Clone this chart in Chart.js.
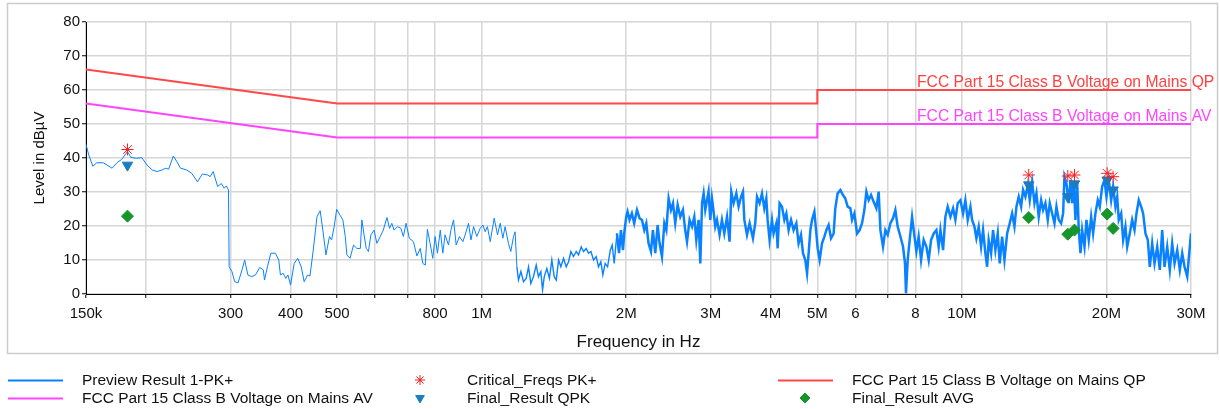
<!DOCTYPE html>
<html>
<head>
<meta charset="utf-8">
<script src="https://cdn.jsdelivr.net/npm/chart.js@4"></script>
<style>
body { margin: 0; background: #fff; }
</style>
</head>
<body>
<canvas id="myChart" width="1220" height="409"></canvas>
<script>
// frequencies in kHz, levels in dBuV
var traceFreq = [150,152,155,158,163,170,174,178,183,186,191,196,201,206,211,216,220,223,228,232,236,243,249,256,262,269,272,276,282,287,291,294,297,298,302,306,311,317,321,326,332,338,345,351,353,358,364,372,378,381,386,391,395,400,407,414,421,427,434,439,446,454,461,467,474,482,487,493,499,507,514,520,524,532,541,550,559,563,569,575,581,588,597,605,615,624,635,643,650,657,668,679,687,696,707,721,733,745,754,763,771,781,791,800,809,820,830,839,853,863,874,885,899,914,924,939,950,962,977,993,1006,1017,1028,1042,1062,1079,1093,1107,1119,1137,1150,1165,1174,1184,1193,1207,1222,
  1238,1252,1266,1282,1299,1313,1328,1339,1350,1367,1384,1400,1416,1430,1446,1462,1481,1500,1517,1534,1553,1574,1591,1612,1630,1651,1669,1689,1710,1732,1751,1771,1788,1808,1829,1853,1870,1888,1913,1932,1950,1969,1981,2000,2013,2032,2055,2078,2106,2132,2157,2181,2202,2226,2252,2273,2299,2325,2347,2374,2401,2424,2451,2479,2503,2530,2559,2592,2625,2654,2677,2710,2742,2772,2799,2830,2853,2877,2899,2922,2946,2968,2993,3017,3041,3065,3091,3129,3165,3201,3243,3283,3310,3347,3391,3428,3468,3501,3524,3569,3614,
  3672,3713,3745,3791,3835,3878,3915,3940,3977,4023,4054,4108,4134,4173,4221,4269,4310,4357,4408,4463,4521,4571,4624,4668,4720,4760,4796,4836,4875,4930,4977,5008,5056,5114,5172,5221,5278,5340,5407,5450,5512,5585,5655,5718,5783,5859,5906,5972,6050,6125,6196,6265,6326,6396,6470,6551,6637,6710,6766,6852,6928,7007,7099,7189,7269,7351,7447,7542,7613,7649,7712,7786,7876,7937,8040,8128,8223,8326,8436,8529,8627,8736,8850,8947,9023,9137,9239,9343,9466,9586,9693,9802,9931,10057,10169,10284,10418,
  10502,10621,10722,10840,10965,11069,11193,11287,11373,11504,11613,11743,11876,11990,12128,12265,12424,12579,12724,12867,12990,13133,13285,13411,13560,13715,13846,14005,14163,14298,14455,14623,14761,14926,15096,15240,15415,15589,15738,15911,16095,16248,16355,16511,16693,16833,16967,17099,17236,17382,17514,17661,17801,18002,18174,18374,18587,18763,18972,19187,19370,19593,19814,20004,20224,20458,20652,20882,21058,21218,21463,21667,21908,22093,22368,22626,22881,23100,23354,23624,23848,24114,24389,24621,24905,25186,25513,25831,26129,26424,26767,27100,27412,27722,28082,28432,28760,29084,29462,29747,30000];
var traceLevel = [44.0,40.9,37.6,38.6,38.6,37.0,38.6,39.6,41.9,40.2,39.9,40.1,37.9,36.5,36.0,36.5,37.0,36.7,40.6,38.9,37.0,36.5,35.5,33.0,35.3,35.0,34.5,36.0,31.6,32.5,31.1,31.8,30.6,8.0,6.6,3.6,3.3,7.1,10.0,5.6,5.1,5.6,7.8,7.1,4.1,8.0,12.0,12.0,10.0,5.6,6.1,4.6,5.6,2.6,9.0,10.5,8.0,3.6,5.6,5.3,12.9,22.7,24.5,18.8,11.5,16.9,15.9,19.8,24.9,23.2,21.8,16.9,11.5,10.5,14.4,13.4,13.4,21.8,17.4,13.4,12.5,17.4,18.8,14.9,16.9,18.8,22.5,19.3,20.8,18.8,19.8,19.3,16.9,20.8,16.4,15.4,11.2,13.4,9.0,8.5,19.0,14.9,10.5,16.9,12.0,18.8,12.0,17.4,14.4,18.8,21.8,14.4,16.9,15.4,17.4,20.8,15.9,19.8,16.9,19.3,20.3,18.3,19.8,15.4,22.3,17.4,20.8,16.4,19.8,14.9,12.5,16.9,18.3,8.0,4.1,6.6,3.6,
  4.6,8.0,3.1,5.1,8.5,5.1,6.6,1.2,5.1,7.5,4.6,10.0,5.1,4.1,10.0,8.0,10.5,8.0,9.5,12.5,11.0,12.5,11.5,13.9,12.5,13.4,12.0,12.5,10.0,11.0,8.0,9.5,5.6,9.0,8.0,12.9,14.4,9.0,17.8,12.0,18.8,12.9,17.8,22.7,24.2,21.8,23.7,20.8,24.7,22.3,21.8,18.8,20.8,14.9,12.5,18.8,12.0,20.3,14.9,11.0,20.8,18.8,28.1,24.7,26.7,20.8,26.2,22.7,24.7,18.8,15.4,21.8,19.8,22.7,15.9,21.8,9.0,26.7,29.6,24.7,27.6,30.1,21.8,28.1,24.2,19.8,21.8,17.4,21.8,17.8,22.7,15.4,30.1,26.7,29.6,25.7,28.6,30.1,21.8,17.4,20.8,
  16.4,20.8,28.6,26.7,29.6,25.2,28.1,21.8,15.9,21.8,17.8,20.8,13.4,26.7,25.7,21.8,23.7,18.8,21.8,18.8,20.8,14.9,17.4,12.0,10.0,6.1,12.0,18.8,21.8,24.2,17.8,13.4,10.0,14.9,16.9,18.8,20.3,16.4,17.8,25.2,29.6,30.6,29.1,28.1,25.7,25.2,21.8,23.7,17.8,18.8,20.8,24.7,30.1,27.6,29.1,27.1,25.2,30.1,18.8,13.9,18.8,17.4,20.8,22.3,24.7,19.8,16.9,13.9,9.0,0.2,10.0,15.9,22.7,18.8,12.5,16.9,10.0,15.9,13.9,10.0,15.9,17.8,18.8,13.9,18.8,12.9,22.7,25.7,22.7,25.2,21.8,26.7,27.6,23.7,27.6,21.8,25.7,
  21.8,19.8,16.4,19.8,13.9,18.8,12.0,8.0,15.9,12.0,18.8,12.9,17.8,9.0,16.9,10.0,17.8,20.8,23.7,19.8,25.7,28.6,25.7,30.6,28.6,32.1,27.6,33.0,26.7,29.6,22.7,27.6,24.7,26.7,21.8,26.7,23.7,20.8,25.7,21.8,20.8,23.7,34.5,32.5,26.7,33.5,26.7,33.0,21.8,33.0,18.8,12.0,18.8,13.9,21.8,15.9,22.7,17.8,23.7,27.6,25.7,31.6,33.5,28.6,33.5,27.6,31.6,25.7,28.6,21.8,23.7,15.9,19.8,13.9,17.8,21.8,18.8,23.7,27.6,25.7,23.7,17.8,15.9,8.0,14.9,9.0,13.9,7.1,18.8,8.0,13.9,7.1,14.9,9.0,12.9,7.1,12.0,8.0,5.1,12.0,17.8];

var qpFreq = [150, 500, 5000, 5000, 30000];
var qpLevel = [66, 56, 56, 60, 60];
var avFreq = [150, 500, 5000, 5000, 30000];
var avLevel = [56, 46, 46, 50, 50];

var finalFreq = [183, 13780, 16615, 17158, 20072, 20652];
var critLevel = [42.5, 35.0, 34.7, 35.0, 35.5, 34.5];
var qpkLevel = [37.9, 32.1, 28.6, 32.4, 33.5, 30.6];
var avgLevel = [22.9, 22.5, 17.6, 18.8, 23.5, 19.3];

var xTicks = [150, 200, 300, 400, 500, 600, 700, 800, 1000, 2000, 3000, 4000, 5000, 6000, 7000, 8000, 10000, 20000, 30000];
var xTickLabels = ['150k', '', '300', '400', '500', '', '', '800', '1M', '2M', '3M', '4M', '5M', '6', '', '8', '10M', '20M', '30M'];

var qpName = 'FCC Part 15 Class B Voltage on Mains QP';
var avName = 'FCC Part 15 Class B Voltage on Mains AV';

function pts(f, v) {
    return f.map(function (x, i) { return { x: x, y: v[i] }; });
}

var FONT = '"Liberation Sans", Arial, sans-serif';
var gridColor = '#d6d6d6';

var extras = {
    id: 'extras',
    beforeDraw: function (chart) {
        var c = chart.ctx;
        c.save();
        c.strokeStyle = '#cccccc';
        c.lineWidth = 1.5;
        c.strokeRect(7.5, 3.5, 1210, 350);
        c.restore();
    },
    afterDatasetsDraw: function (chart) {
        var c = chart.ctx, y = chart.scales.y;
        c.save();
        c.font = '15.7px ' + FONT;
        c.textAlign = 'left';
        c.textBaseline = 'alphabetic';
        c.fillStyle = '#ff4040';
        c.fillText(qpName, 917, y.getPixelForValue(60) - 3);
        c.fillStyle = '#ff44ff';
        c.fillText(avName, 917, y.getPixelForValue(50) - 3);
        c.restore();
    },
    afterDraw: function (chart) {
        var c = chart.ctx;
        var ds = chart.data.datasets;
        // legend: [dataset index, sample x, text x, row y]
        var items = [[0, 8, 82, 380], [3, 420, 467, 380], [1, 778, 852, 380],
                     [2, 8, 82, 398], [4, 420, 467, 398], [5, 805, 852, 398]];
        c.save();
        c.font = '15.5px ' + FONT;
        c.textBaseline = 'middle';
        items.forEach(function (it) {
            var d = ds[it[0]], x = it[1], y = it[3];
            if (d.showLine === false) {
                c.fillStyle = d.backgroundColor;
                c.strokeStyle = d.borderColor;
                c.lineWidth = 1;
                Chart.helpers.drawPoint(c, { pointStyle: d.pointStyle, radius: 5, rotation: d.rotation || 0, borderWidth: 1 }, x, y);
            } else {
                c.strokeStyle = d.borderColor;
                c.lineWidth = 2;
                c.beginPath();
                c.moveTo(x, y + 0.5);
                c.lineTo(x + 55, y + 0.5);
                c.stroke();
            }
            c.fillStyle = '#111';
            c.fillText(d.label, it[2], y + 1);
        });
        c.restore();
    }
};

var ctx = document.getElementById('myChart').getContext('2d');
var myChart = new Chart(ctx, {
    type: 'line',
    data: {
        datasets: [{
            label: 'Preview Result 1-PK+',
            data: pts(traceFreq, traceLevel),
            borderColor: '#0a82ff',
            borderWidth: 1,
            pointRadius: 0,
            segment: {
                // the receiver sweep gets denser above ~1.2 MHz, draw it heavier there
                borderWidth: function (s) {
                    var f = s.p0.parsed.x;
                    return f > 1900 ? 2.5 : (f > 1180 ? 1.4 : 1);
                }
            },
            order: 3
        }, {
            label: qpName,
            data: pts(qpFreq, qpLevel),
            borderColor: '#ff4848',
            borderWidth: 2,
            pointRadius: 0,
            order: 2
        }, {
            label: avName,
            data: pts(avFreq, avLevel),
            borderColor: '#ff44ff',
            borderWidth: 2,
            pointRadius: 0,
            order: 2
        }, {
            label: 'Critical_Freqs PK+',
            data: pts(finalFreq, critLevel),
            showLine: false,
            pointStyle: 'star',
            pointRadius: 6,
            borderColor: '#ff1a1a',
            backgroundColor: '#ff1a1a',
            pointBorderWidth: 1,
            order: 0
        }, {
            label: 'Final_Result QPK',
            data: pts(finalFreq, qpkLevel),
            showLine: false,
            pointStyle: 'triangle',
            rotation: 180,
            pointRadius: 6,
            borderColor: '#1a7dbf',
            backgroundColor: '#1a7dbf',
            order: 0
        }, {
            label: 'Final_Result AVG',
            data: pts(finalFreq, avgLevel),
            showLine: false,
            pointStyle: 'rectRot',
            pointRadius: 6,
            borderColor: '#16962a',
            backgroundColor: '#16962a',
            order: 0
        }]
    },
    options: {
        responsive: false,
        animation: false,
        events: [],
        layout: {
            padding: { left: 0, right: 29, top: 22, bottom: 53 }
        },
        plugins: {
            legend: { display: false },
            tooltip: { enabled: false }
        },
        elements: { line: { tension: 0 } },
        scales: {
            x: {
                type: 'logarithmic',
                min: 150,
                max: 30000,
                afterBuildTicks: function (scale) {
                    scale.ticks = xTicks.map(function (v) { return { value: v }; });
                },
                afterFit: function (scale) { scale.height = 62; },
                ticks: {
                    autoSkip: false,
                    maxRotation: 0,
                    padding: 7,
                    color: '#111',
                    font: { family: FONT, size: 15 },
                    callback: function (v) {
                        var i = xTicks.indexOf(v);
                        return i < 0 ? '' : xTickLabels[i];
                    }
                },
                grid: { color: gridColor, lineWidth: 1.5, tickColor: '#000', tickLength: 4, tickWidth: 1 },
                border: { color: '#000', width: 1 },
                title: {
                    display: true,
                    text: 'Frequency in Hz',
                    color: '#111',
                    font: { family: FONT, size: 17 },
                    padding: { top: 0, bottom: 3 }
                }
            },
            y: {
                min: 0,
                max: 80,
                afterFit: function (scale) { scale.width = 86; },
                ticks: {
                    stepSize: 5,
                    padding: 2,
                    color: '#111',
                    font: { family: FONT, size: 15 },
                    callback: function (v) { return v % 10 === 0 ? v : ''; }
                },
                grid: { color: gridColor, lineWidth: 1.5, tickColor: '#000', tickLength: 4, tickWidth: 1 },
                border: { color: '#000', width: 1 },
                title: {
                    display: true,
                    text: 'Level in dBµV',
                    color: '#111',
                    font: { family: FONT, size: 15 },
                    padding: { top: 31, bottom: 0 }
                }
            }
        }
    },
    plugins: [extras]
});
</script>
</body>
</html>
